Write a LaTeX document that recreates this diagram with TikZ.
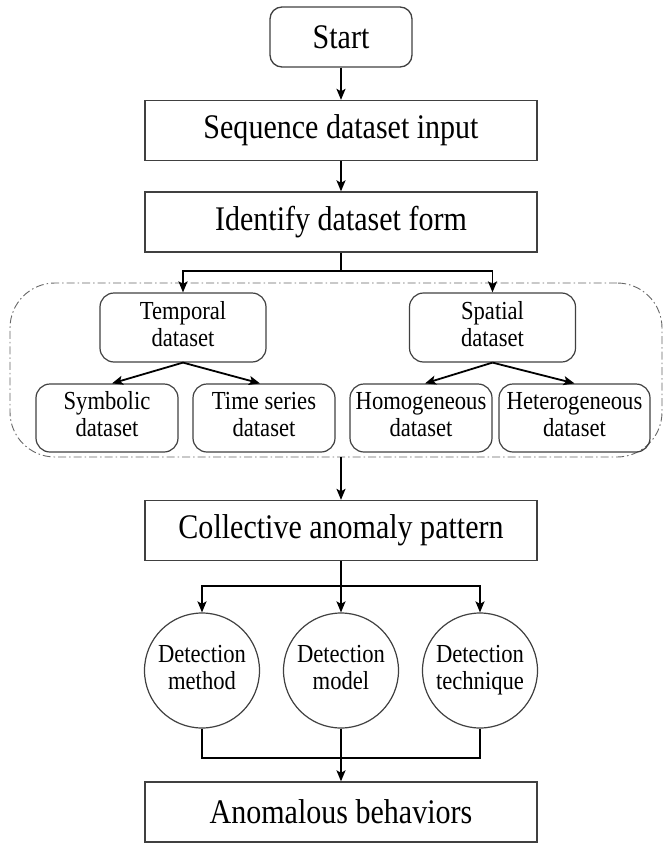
\documentclass[tikz,border=0pt]{standalone}
\usepackage{fontspec}
\setmainfont{Liberation Serif}[FakeStretch=0.87]
\usetikzlibrary{arrows.meta}
\begin{document}
\begin{tikzpicture}[x=1pt,y=-1pt,
 mainbox/.style={draw=black!75, line width=1.3pt, minimum width=392pt, minimum height=60pt, inner sep=0pt, font=\fontsize{34.5}{38}\selectfont},
 startbox/.style={draw=black!75, line width=1.3pt, rounded corners=12pt, minimum width=142pt, minimum height=60pt, inner sep=0pt, font=\fontsize{34.5}{38}\selectfont},
 subbox/.style={draw=black!75, line width=1.2pt, rounded corners=14pt, minimum width=166pt, minimum height=69pt, inner sep=0pt, align=center, font=\fontsize{26}{27}\selectfont},
 leafbox/.style={draw=black!75, line width=1.2pt, rounded corners=14pt, minimum width=142pt, minimum height=68pt, inner sep=0pt, align=center, font=\fontsize{26}{27}\selectfont},
 circ/.style={circle, draw=black!75, line width=1.2pt, minimum size=115pt, inner sep=0pt, align=center, font=\fontsize{26}{27}\selectfont},
 grpbox/.style={draw=black!60, line width=0.9pt, rounded corners=45pt, dash pattern=on 8pt off 3pt on 1.5pt off 3pt, minimum width=652pt, minimum height=174pt, inner sep=0pt},
 ln/.style={line width=1.8pt, black},
 arr/.style={ln, -{Stealth[length=11pt, width=9pt, inset=2.5pt]}}
]
\useasboundingbox (0,0) rectangle (664,843);

\node[grpbox] (grp) at (336,370) {};

\node[startbox] (start) at (341,37) {Start};
\node[mainbox] (seq) at (341,130.5) {Sequence dataset input};
\node[mainbox] (ident) at (341,222) {Identify dataset form};

\node[subbox] (temporal) at (183,327.5) {Temporal\strut\\dataset\strut};
\node[subbox] (spatial) at (492.5,327.5) {Spatial\strut\\dataset\strut};

\node[leafbox] (symb) at (107,418) {Symbolic\strut\\dataset\strut};
\node[leafbox] (times) at (264,418) {Time series\strut\\dataset\strut};
\node[leafbox] (homog) at (421,418) {Homogeneous\strut\\dataset\strut};
\node[leafbox, minimum width=151pt] (heter) at (574.5,418) {Heterogeneous\strut\\dataset\strut};

\node[mainbox] (coll) at (341,530.5) {Collective anomaly pattern};

\node[circ] (c1) at (202,670.5) {Detection\strut\\method\strut};
\node[circ] (c2) at (341,670.5) {Detection\strut\\model\strut};
\node[circ] (c3) at (480,670.5) {Detection\strut\\technique\strut};

\node[mainbox] (anom) at (341,812) {Anomalous behaviors};

\draw[arr] (start) -- (seq);
\draw[arr] (seq) -- (ident);

\coordinate (b1) at (341,271);
\draw[ln] (ident.south) -- (b1);
\draw[arr] (b1) -| (temporal.north);
\draw[arr] (b1) -| (spatial.north);

\draw[arr] (temporal.south) -- ([xshift=5pt]symb.north);
\draw[arr] (temporal.south) -- ([xshift=-4pt]times.north);
\draw[arr] (spatial.south) -- ([xshift=4pt]homog.north);
\draw[arr] (spatial.south) -- ([xshift=0pt]heter.north);

\draw[arr] (grp.south -| coll.north) -- (coll.north);

\coordinate (b2) at (341,586);
\draw[ln] (coll.south) -- (b2);
\draw[arr] (b2) -| (c1.north);
\draw[arr] (b2) -- (c2.north);
\draw[arr] (b2) -| (c3.north);

\coordinate (m) at (341,758);
\draw[ln] (c1.south) |- (m);
\draw[ln] (c3.south) |- (m);
\draw[arr] (c2.south) -- (anom.north);
\end{tikzpicture}
\end{document}
